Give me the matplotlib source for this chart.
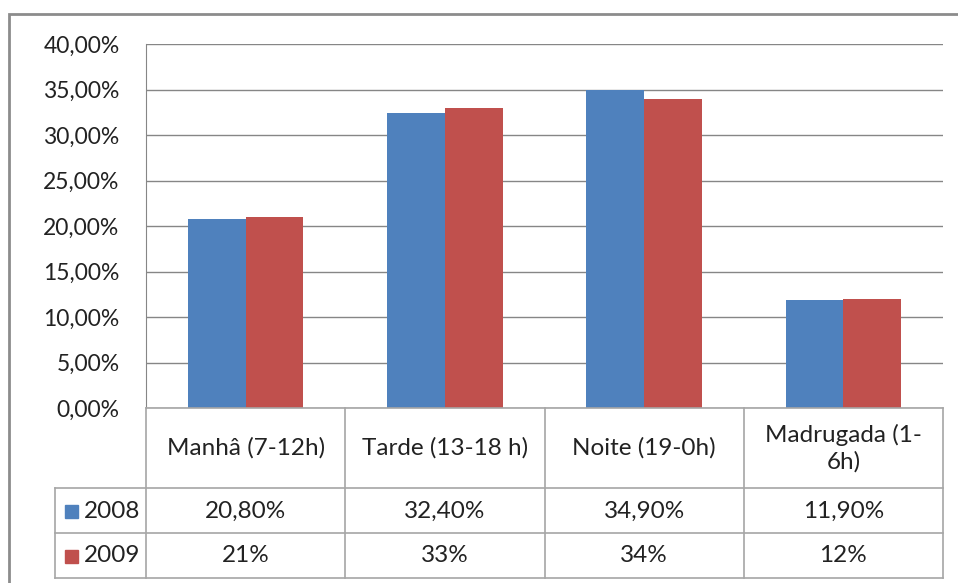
import numpy as np
import matplotlib.pyplot as plt
import matplotlib.transforms as mtransforms
from matplotlib.patches import Rectangle
from matplotlib.ticker import FuncFormatter

categories = ["Manhâ (7-12h)", "Tarde (13-18 h)", "Noite (19-0h)", "Madrugada (1-\n6h)"]
years = ["2008", "2009"]
vals_2008 = [20.8, 32.4, 34.9, 11.9]
vals_2009 = [21, 33, 34, 12]
labels_2008 = ["20,80%", "32,40%", "34,90%", "11,90%"]
labels_2009 = ["21%", "33%", "34%", "12%"]

blue = "#4F81BD"
red = "#C0504D"
grid_c = "#868686"
tab_c = "#A6A6A6"
txt_c = "#222222"
fs = 16.5
fs_tab = 17.5
plt.rcParams['font.family'] = ['Lato', 'DejaVu Sans']

W, H = 958, 583
fig = plt.figure(figsize=(W / 100, H / 100), dpi=100)


def fx(x):
    return x / W


def fy(y):
    return 1 - y / H


# outer frame (cut off at right/bottom like the screenshot)
fig.patches.append(Rectangle((fx(9), fy(600)), fx(960) - fx(9), fy(14) - fy(600),
                             transform=fig.transFigure, fill=False,
                             edgecolor="#8C8C8C", linewidth=2))

ax = fig.add_axes([fx(146), fy(408), fx(943) - fx(146), fy(44) - fy(408)])
x = np.arange(len(categories))
bw = 0.29
ax.bar(x - bw / 2, vals_2008, bw, color=blue, zorder=3)
ax.bar(x + bw / 2, vals_2009, bw, color=red, zorder=3)
ax.set_xlim(-0.5, len(categories) - 0.5)
ax.set_ylim(0, 40)
ax.set_yticks(np.arange(0, 41, 5))
ax.yaxis.set_major_formatter(FuncFormatter(lambda v, p: f"{v:.2f}%".replace(".", ",")))
ax.tick_params(axis='y', length=0, labelsize=fs, pad=19, colors=txt_c)
ax.set_xticks([])
ax.grid(axis='y', color=grid_c, linewidth=1, zorder=0)
for s in ["top", "right", "bottom"]:
    ax.spines[s].set_visible(False)
ax.spines["left"].set_color(grid_c)

# data table below the axis
tr = mtransforms.blended_transform_factory(ax.transData, fig.transFigure)
lw = 1.2
for yy in [488, 533, 578]:
    fig.add_artist(plt.Line2D([fx(55), fx(943)], [fy(yy), fy(yy)], color=tab_c, lw=lw,
                              transform=fig.transFigure))
fig.add_artist(plt.Line2D([fx(146), fx(943)], [fy(408), fy(408)], color=tab_c, lw=lw,
                          transform=fig.transFigure))
fig.add_artist(plt.Line2D([fx(55), fx(55)], [fy(488), fy(578)], color=tab_c, lw=lw,
                          transform=fig.transFigure))
for b in np.arange(-0.5, len(categories), 1.0):
    fig.add_artist(plt.Line2D([b, b], [fy(408), fy(578)], color=tab_c, lw=lw, transform=tr))

for i, cat in enumerate(categories):
    fig.text(i, fy(448), cat, transform=tr, ha='center', va='center', fontsize=fs_tab,
             color=txt_c, linespacing=1.3)
    fig.text(i, fy(511), labels_2008[i], transform=tr, ha='center', va='center',
             fontsize=fs_tab, color=txt_c)
    fig.text(i, fy(556), labels_2009[i], transform=tr, ha='center', va='center',
             fontsize=fs_tab, color=txt_c)

for yr, col, yc in zip(years, [blue, red], [511, 556]):
    fig.patches.append(Rectangle((fx(65), fy(yc + 7)), fx(13), fx(13) * W / H,
                                 transform=fig.transFigure, color=col))
    fig.text(fx(84), fy(yc), yr, ha='left', va='center', fontsize=fs_tab, color=txt_c)

fig.savefig("out.png", dpi=100)
